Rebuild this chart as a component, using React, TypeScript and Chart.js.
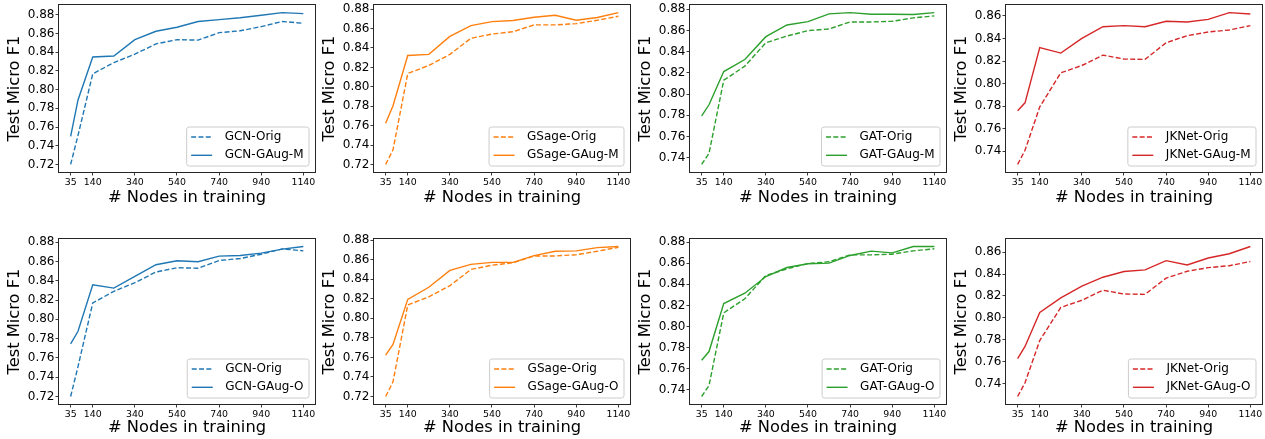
import React, { useEffect, useRef } from "react";
import { Chart, registerables } from "chart.js";

Chart.register(...registerables);

// ---- data ----
const nodeCounts = [35, 70, 140, 240, 340, 440, 540, 640, 740, 840, 940, 1040, 1140];
const xTickValues = [35, 140, 340, 540, 740, 940, 1140];

const yTicks072to088 = [0.72, 0.74, 0.76, 0.78, 0.8, 0.82, 0.84, 0.86, 0.88];
const yTicks074to088 = [0.74, 0.76, 0.78, 0.8, 0.82, 0.84, 0.86, 0.88];
const yTicks074to086 = [0.74, 0.76, 0.78, 0.8, 0.82, 0.84, 0.86];

const gcnOrig = [0.72, 0.751, 0.817, 0.829, 0.838, 0.849, 0.8535, 0.853, 0.861, 0.863, 0.8675, 0.873, 0.871];
const gcnGAugM = [0.75, 0.789, 0.835, 0.836, 0.8536, 0.8625, 0.8668, 0.8729, 0.875, 0.877, 0.8796, 0.8825, 0.8814];
const gcnGAugO = [0.7745, 0.7876, 0.8359, 0.8324, 0.8445, 0.8566, 0.8607, 0.8597, 0.8655, 0.8662, 0.8686, 0.8728, 0.8755];

const gsageOrig = [0.72, 0.735, 0.8137, 0.822, 0.8334, 0.85, 0.8544, 0.8568, 0.8638, 0.8638, 0.8651, 0.8686, 0.8727];
const gsageGAugM = [0.7625, 0.7805, 0.8323, 0.8334, 0.852, 0.8631, 0.8672, 0.8683, 0.8717, 0.8738, 0.8686, 0.8714, 0.8765];
const gsageGAugO = [0.7623, 0.7733, 0.8194, 0.8318, 0.849, 0.8552, 0.8573, 0.8573, 0.8642, 0.8686, 0.869, 0.8724, 0.8735];

const gatOrig = [0.7337, 0.7441, 0.813, 0.8263, 0.8484, 0.8547, 0.8598, 0.8614, 0.868, 0.868, 0.8686, 0.8718, 0.8737];
const gatGAugM = [0.7795, 0.7899, 0.8212, 0.8326, 0.8541, 0.8651, 0.8683, 0.8756, 0.8768, 0.8753, 0.8753, 0.875, 0.8768];
const gatGAugO = [0.7681, 0.7763, 0.8218, 0.8316, 0.8474, 0.856, 0.8595, 0.8601, 0.8674, 0.8715, 0.8699, 0.8759, 0.8759];

const jknetOrig = [0.7284, 0.7409, 0.7794, 0.8096, 0.8161, 0.8253, 0.8218, 0.8215, 0.8363, 0.8425, 0.8458, 0.8476, 0.8514];
const jknetGAugM = [0.7759, 0.783, 0.8319, 0.8271, 0.8401, 0.8505, 0.8514, 0.8505, 0.8553, 0.8547, 0.857, 0.863, 0.8618];
const jknetGAugO = [0.7629, 0.774, 0.805, 0.8182, 0.829, 0.8371, 0.8423, 0.8438, 0.8522, 0.8483, 0.8546, 0.8585, 0.8651];

const BLUE = "#1f77b4";
const ORANGE = "#ff7f0e";
const GREEN = "#2ca02c";
const RED = "#d62728";

const FONT = "'DejaVu Sans', sans-serif";
const X_TITLE = "# Nodes in training";
const Y_TITLE = "Test Micro F1";

type Panel = {
  model: string;
  variant: string;
  orig: number[];
  aug: number[];
  color: string;
  yTicks: number[];
  row: number;
  col: number;
};

const panels: Panel[] = [
  { model: "GCN", variant: "GAug-M", orig: gcnOrig, aug: gcnGAugM, color: BLUE, yTicks: yTicks072to088, row: 0, col: 0 },
  { model: "GSage", variant: "GAug-M", orig: gsageOrig, aug: gsageGAugM, color: ORANGE, yTicks: yTicks072to088, row: 0, col: 1 },
  { model: "GAT", variant: "GAug-M", orig: gatOrig, aug: gatGAugM, color: GREEN, yTicks: yTicks074to088, row: 0, col: 2 },
  { model: "JKNet", variant: "GAug-M", orig: jknetOrig, aug: jknetGAugM, color: RED, yTicks: yTicks074to086, row: 0, col: 3 },
  { model: "GCN", variant: "GAug-O", orig: gcnOrig, aug: gcnGAugO, color: BLUE, yTicks: yTicks072to088, row: 1, col: 0 },
  { model: "GSage", variant: "GAug-O", orig: gsageOrig, aug: gsageGAugO, color: ORANGE, yTicks: yTicks072to088, row: 1, col: 1 },
  { model: "GAT", variant: "GAug-O", orig: gatOrig, aug: gatGAugO, color: GREEN, yTicks: yTicks074to088, row: 1, col: 2 },
  { model: "JKNet", variant: "GAug-O", orig: jknetOrig, aug: jknetGAugO, color: RED, yTicks: yTicks074to086, row: 1, col: 3 },
];

// ---- layout ----
const colLefts = [0, 315, 631, 947];
const rowLayouts = [
  { top: 0, height: 225, padTop: 5, xAxisH: 53, titlePadBottom: 17.2 },
  { top: 225, height: 214, padTop: 14, xAxisH: 35, titlePadBottom: 1.2 },
];
const Y_AXIS_W = 59;
const CANVAS_W = 316;
const DASH = [5, 2.3];
const LINE_W = 1.4;

const framePlugin = {
  id: "frameBox",
  afterDatasetsDraw(chart: any) {
    const { ctx, chartArea: a } = chart;
    ctx.save();
    ctx.strokeStyle = "#262626";
    ctx.lineWidth = 1;
    const l = Math.round(a.left) - 0.5;
    const t = Math.round(a.top) - 0.5;
    const r = Math.round(a.right) + 0.5;
    const b = Math.round(a.bottom) + 0.5;
    ctx.strokeRect(l, t, r - l, b - t);
    ctx.restore();
  },
};

const boxLegendPlugin = {
  id: "boxLegend",
  afterDraw(chart: any) {
    const { ctx, chartArea: a } = chart;
    const ds = chart.data.datasets;
    ctx.save();
    ctx.font = `12px ${FONT}`;
    const tw = Math.max(...ds.map((d: any) => ctx.measureText(d.label).width));
    const padL = 4.5;
    const handle = 21;
    const gap = 12.5;
    const padR = 5.5;
    const w = padL + handle + gap + tw + padR;
    const h = 39;
    const x = a.right - 6 - w;
    const y = a.bottom - 6 - h;
    const rad = 2.5;
    ctx.beginPath();
    ctx.moveTo(x + rad, y);
    ctx.lineTo(x + w - rad, y);
    ctx.quadraticCurveTo(x + w, y, x + w, y + rad);
    ctx.lineTo(x + w, y + h - rad);
    ctx.quadraticCurveTo(x + w, y + h, x + w - rad, y + h);
    ctx.lineTo(x + rad, y + h);
    ctx.quadraticCurveTo(x, y + h, x, y + h - rad);
    ctx.lineTo(x, y + rad);
    ctx.quadraticCurveTo(x, y, x + rad, y);
    ctx.closePath();
    ctx.fillStyle = "rgba(255,255,255,0.8)";
    ctx.fill();
    ctx.strokeStyle = "#cccccc";
    ctx.lineWidth = 1;
    ctx.stroke();
    const rowsY = [y + 10, y + 28.3];
    ds.forEach((d: any, i: number) => {
      const ry = rowsY[i];
      ctx.beginPath();
      ctx.setLineDash(d.borderDash || []);
      ctx.strokeStyle = d.borderColor;
      ctx.lineWidth = d.borderWidth;
      ctx.moveTo(x + padL, ry);
      ctx.lineTo(x + padL + handle, ry);
      ctx.stroke();
      ctx.setLineDash([]);
      ctx.fillStyle = "#000";
      ctx.textBaseline = "middle";
      ctx.textAlign = "left";
      ctx.fillText(d.label, x + padL + handle + gap, ry);
    });
    ctx.restore();
  },
};

function PanelChart({ panel }: { panel: Panel }) {
  const ref = useRef<HTMLCanvasElement>(null);
  const row = rowLayouts[panel.row];

  useEffect(() => {
    const all = panel.orig.concat(panel.aug);
    const lo = Math.min(...all);
    const hi = Math.max(...all);
    const yPad = (hi - lo) * 0.05;
    const xLo = nodeCounts[0];
    const xHi = nodeCounts[nodeCounts.length - 1];
    const xPad = (xHi - xLo) * 0.05;

    const grid = {
      display: true,
      drawOnChartArea: false,
      drawTicks: true,
      tickLength: 3.5,
      tickColor: "#262626",
      tickWidth: 0.9,
    };

    const chart = new Chart(ref.current as HTMLCanvasElement, {
      type: "line",
      data: {
        datasets: [
          {
            label: `${panel.model}-Orig`,
            data: nodeCounts.map((x, i) => ({ x, y: panel.orig[i] })),
            borderColor: panel.color,
            borderWidth: LINE_W,
            borderDash: DASH,
            pointRadius: 0,
            fill: false,
            tension: 0,
          },
          {
            label: `${panel.model}-${panel.variant}`,
            data: nodeCounts.map((x, i) => ({ x, y: panel.aug[i] })),
            borderColor: panel.color,
            borderWidth: LINE_W,
            pointRadius: 0,
            fill: false,
            tension: 0,
          },
        ],
      },
      options: {
        animation: false,
        responsive: false,
        devicePixelRatio: 1,
        layout: { padding: { top: row.padTop, left: 0, right: 1, bottom: 0 } },
        plugins: { legend: { display: false }, tooltip: { enabled: false } },
        scales: {
          x: {
            type: "linear",
            min: xLo - xPad,
            max: xHi + xPad,
            afterBuildTicks: (s: any) => {
              s.ticks = xTickValues.map((v) => ({ value: v }));
            },
            afterFit: (s: any) => {
              s.height = row.xAxisH;
              s.paddingLeft = 0;
              s.paddingRight = 0;
            },
            ticks: {
              autoSkip: false,
              maxRotation: 0,
              minRotation: 0,
              padding: 1.2,
              color: "#000",
              font: { family: FONT, size: 9.4 },
              callback: (v: any) => String(v),
            },
            grid,
            border: { display: false },
            title: {
              display: true,
              text: X_TITLE,
              color: "#000",
              font: { family: FONT, size: 16.3 },
              padding: { top: 0, bottom: row.titlePadBottom },
            },
          },
          y: {
            type: "linear",
            min: lo - yPad,
            max: hi + yPad,
            afterBuildTicks: (s: any) => {
              s.ticks = panel.yTicks.map((v) => ({ value: v }));
            },
            afterFit: (s: any) => {
              s.width = Y_AXIS_W;
              s.paddingTop = 0;
              s.paddingBottom = 0;
            },
            ticks: {
              padding: 1,
              color: "#000",
              font: { family: FONT, size: 12 },
              callback: (v: any) => Number(v).toFixed(2),
            },
            grid,
            border: { display: false },
            title: {
              display: true,
              text: Y_TITLE,
              color: "#000",
              font: { family: FONT, size: 16.3 },
              padding: { top: 5, bottom: 0 },
            },
          },
        },
      },
      plugins: [framePlugin, boxLegendPlugin],
    } as any);
    return () => chart.destroy();
  }, []);

  return (
    <canvas
      ref={ref}
      width={CANVAS_W}
      height={row.height}
      style={{
        position: "absolute",
        left: colLefts[panel.col],
        top: row.top,
        width: CANVAS_W,
        height: row.height,
      }}
    />
  );
}

export default function App() {
  return (
    <div
      style={{
        position: "absolute",
        left: 0,
        top: 0,
        width: 1265,
        height: 439,
        background: "#fff",
        overflow: "hidden",
      }}
    >
      {panels.map((p, i) => (
        <PanelChart key={i} panel={p} />
      ))}
    </div>
  );
}
